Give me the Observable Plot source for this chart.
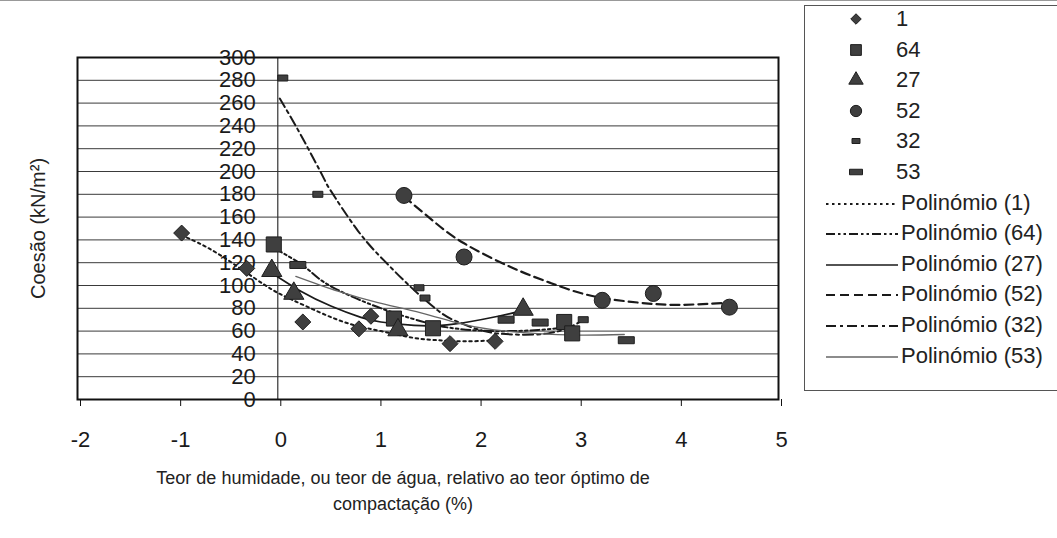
<!DOCTYPE html>
<html><head><meta charset="utf-8">
<script src="https://cdn.jsdelivr.net/npm/d3@7"></script>
<script src="https://cdn.jsdelivr.net/npm/@observablehq/plot@0.6"></script>
<style>
body{margin:0;background:#fff;font-family:"Liberation Sans",Arial,sans-serif;}
#wrap{position:relative;width:1057px;height:538px;overflow:hidden;background:#fff;border-top:1px solid #999;box-sizing:border-box;}
#chart{position:absolute;left:0;top:0;}
#legend{position:absolute;left:804px;top:4px;width:270px;height:386px;border:1px solid #555;box-sizing:border-box;background:#fff;}
.row{position:absolute;left:0;height:30px;display:flex;align-items:center;font-size:22px;color:#222;white-space:nowrap;}
</style></head><body>
<div id="wrap"><div id="chart"></div><div id="legend"></div></div>
<script>
// ---- data ----
const yTicks = [0,20,40,60,80,100,120,140,160,180,200,220,240,260,280,300];
const xTicks = [-2,-1,0,1,2,3,4,5];

const seriesNames = ["1","64","27","52","32","53"];
const trendNames = ["Polinómio (1)","Polinómio (64)","Polinómio (27)","Polinómio (52)","Polinómio (32)","Polinómio (53)"];

const s1x  = [-0.96,-0.31,0.25,0.81,0.93,1.72,2.17];
const s1y  = [146,115,68,62,73,49,51];
const s64x = [-0.04,1.16,1.55,2.86,2.94];
const s64y = [136,71,62.5,68,58];
const s27x = [-0.06,0.16,1.20,2.45];
const s27y = [113,93,61,79];
const s52x = [1.26,1.86,3.24,3.75,4.51];
const s52y = [179,125,87,93,81];
const s32x = [0.05,0.40,1.41,1.47,3.05];
const s32y = [282,180,98,89,70];
const s53x = [0.20,2.28,2.62,3.48];
const s53y = [118,70,67.5,52];

// trendlines (polynomial)
const t1x  = [-0.96,-0.6,-0.14,0.13,0.43,0.73,1.03,1.36,1.6,1.86,2.17];
const t1y  = [144,128,101,88,76,66,60,54,52,51,52];
const t64x = [-0.04,0.26,0.46,0.8,1.16,1.5,1.8,2.2,2.6,2.94];
const t64y = [133,117,103,88,76,67,62,60,61,64];
const t27x = [-0.06,0.23,0.53,0.83,1.03,1.36,1.63,1.9,2.2,2.45];
const t27y = [111,95,82,72,68,65,65,68,73,78];
const t52x = [1.26,1.56,1.86,2.33,2.73,3.13,3.6,4.0,4.51];
const t52y = [178,156,137,116,102,91,85,83,85];
const t32x = [0.02,0.23,0.46,0.53,0.8,1.06,1.3,1.6,1.8,2.06,2.36,2.7,2.93,3.05];
const t32y = [264,232,194,183,148,122,101,78,68,60,57,58,64,70];
const t53x = [0.18,0.6,1.0,1.43,1.8,2.16,2.56,3.0,3.46];
const t53y = [108,95,85,76,67,61,58,56.5,57];

// ---- build ----
const pts = (xs, ys) => xs.map((x,i)=>({x, y: ys[i]}));
const rectSym = (w,h) => ({draw(ctx){ ctx.moveTo(-w/2,-h/2); ctx.lineTo(w/2,-h/2); ctx.lineTo(w/2,h/2); ctx.lineTo(-w/2,h/2); ctx.closePath(); }});
const rectSmall = rectSym(10,6), rectWide = rectSym(16,7);
const legSmall = rectSym(8,5), legWide = rectSym(13,5.5);

const markFill = "#3f3f3f", markStroke = "#1e1e1e", lineCol = "#1a1a1a";
const symbols = [
  {sym:"diamond2", r:7.2},
  {sym:"square", r:8.5},
  {sym:"triangle", r:7.5},
  {sym:"circle", r:8},
  {sym:rectSmall, r:5},
  {sym:rectWide, r:5}
];
const legendSyms = [
  d3.symbol(d3.symbolDiamond2, 70)(),
  d3.symbol(d3.symbolSquare, 115)(),
  d3.symbol(d3.symbolTriangle, 90)(),
  d3.symbol(d3.symbolCircle, 100)(),
  d3.symbol(legSmall)(),
  d3.symbol(legWide)()
];
const trendStyles = [
  {dash:"2.5,3.5", w:2, c:lineCol},
  {dash:"9,3,2.5,3,2.5,3", w:2, c:lineCol},
  {dash:null, w:1.7, c:lineCol},
  {dash:"9,5", w:2.2, c:lineCol},
  {dash:"10,4,3,4", w:2, c:lineCol},
  {dash:null, w:1.3, c:"#666"}
];
const seriesData = [pts(s1x,s1y),pts(s64x,s64y),pts(s27x,s27y),pts(s52x,s52y),pts(s32x,s32y),pts(s53x,s53y)];
const trendData  = [pts(t1x,t1y),pts(t64x,t64y),pts(t27x,t27y),pts(t52x,t52y),pts(t32x,t32y),pts(t53x,t53y)];

const font = "'Liberation Sans', Arial, sans-serif";
const chart = Plot.plot({
  width: 1057, height: 538,
  marginLeft: 77, marginRight: 279, marginTop: 56, marginBottom: 140,
  x: {domain: [-2,5], label: null},
  y: {domain: [0,300], label: null, axis: null},
  style: {fontFamily: font, background: "transparent", color: "#1a1a1a", overflow: "visible"},
  marks: [
    Plot.ruleY(yTicks, {stroke: "#3a3a3a", strokeWidth: 1}),
    Plot.ruleX([0], {stroke: "#333", strokeWidth: 1.2}),
    Plot.frame({stroke: "#111", strokeWidth: 2}),
    Plot.axisX(xTicks, {tickSize: 7, tickPadding: 25, fontSize: 22, stroke: "#111", dx: 3, tickFormat: d => String(d)}),
    Plot.text(yTicks, {x: 0, y: d => d, text: d => String(d), dx: -22, textAnchor: "end", fontSize: 22, fill: "#1a1a1a"}),
    ...trendData.map((d,i) => Plot.line(d, {x:"x", y:"y", curve:"natural", stroke: trendStyles[i].c, strokeWidth: trendStyles[i].w, strokeDasharray: trendStyles[i].dash})),
    ...seriesData.map((d,i) => Plot.dot(d, {x:"x", y:"y", symbol: symbols[i].sym, r: symbols[i].r, fill: markFill, stroke: markStroke, strokeWidth: 1})),
    Plot.text(["Coesão (kN/m²)"], {frameAnchor: "left", textAnchor: "middle", lineAnchor: "middle", dx: -39, rotate: -90, fontSize: 20, fill: "#222"}),
    Plot.text(["Teor de humidade, ou teor de água, relativo ao teor óptimo de\ncompactação (%)"], {frameAnchor: "bottom", textAnchor: "middle", lineAnchor: "middle", dx: -25, dy: 89, lineHeight: 1.45, fontSize: 18, fill: "#222"})
  ]
});
document.getElementById("chart").appendChild(chart);

// ---- legend ----
const leg = document.getElementById("legend");
const rowY0 = 13, rowStep = 30.6; // centre of first row relative to legend top
seriesNames.forEach((name,i) => {
  const row = document.createElement("div");
  row.className = "row";
  row.style.top = (rowY0 + i*rowStep - 15) + "px";
  const svg = d3.create("svg").attr("width", 91).attr("height", 30);
  svg.append("path").attr("d", legendSyms[i]).attr("transform", "translate(51,15)").attr("fill", markFill).attr("stroke", markStroke);
  row.appendChild(svg.node());
  const t = document.createElement("span"); t.textContent = name; row.appendChild(t);
  leg.appendChild(row);
});
trendNames.forEach((name,i) => {
  const row = document.createElement("div");
  row.className = "row";
  row.style.top = (rowY0 + (i+6)*rowStep - 15) + "px";
  const svg = d3.create("svg").attr("width", 96).attr("height", 30);
  const st = trendStyles[i];
  svg.append("line").attr("x1", 21).attr("x2", 93).attr("y1", 16).attr("y2", 16)
    .attr("stroke", st.c).attr("stroke-width", st.w).attr("stroke-dasharray", st.dash);
  row.appendChild(svg.node());
  const t = document.createElement("span"); t.textContent = name; row.appendChild(t);
  leg.appendChild(row);
});
</script>
</body></html>
